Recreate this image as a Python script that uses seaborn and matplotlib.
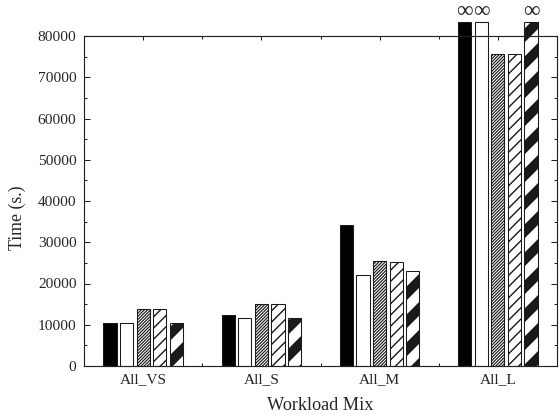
import numpy as np
import pandas as pd
import matplotlib
matplotlib.use("Agg")
import matplotlib.pyplot as plt
import seaborn as sns

# Completion time per workload mix for five configurations (inf = did not finish)
workloads = ["All_VS", "All_S", "All_M", "All_L"]
series = ["cfg1", "cfg2", "cfg3", "cfg4", "cfg5"]
cfg1 = [10500, 12300, 34100, np.inf]
cfg2 = [10400, 11600, 22000, np.inf]
cfg3 = [13700, 15000, 25500, 75600]
cfg4 = [13700, 15000, 25100, 75600]
cfg5 = [10350, 11700, 23000, np.inf]
y_ticks = [0, 10000, 20000, 30000, 40000, 50000, 60000, 70000, 80000]

INF_BAR = 83500      # height used to draw unfinished runs (bar runs past the frame)
INF_MARK_Y = 85900   # height of the infinity sign above such bars

values = [cfg1, cfg2, cfg3, cfg4, cfg5]
rows = []
for name, vals in zip(series, values):
    for w, v in zip(workloads, vals):
        rows.append({"workload": w, "config": name, "time": v,
                     "shown": INF_BAR if np.isinf(v) else v})
df = pd.DataFrame(rows)

sns.set_style("ticks")
plt.rcParams["font.family"] = ["Liberation Serif", "DejaVu Serif"]
plt.rcParams["hatch.color"] = "black"

DPI = 168
fig = plt.figure(figsize=(560 / DPI, 417 / DPI), dpi=DPI)
ax = fig.add_axes([84 / 560, 1 - 366 / 417, (557 - 84) / 560, (366 - 36) / 417])

palette = ["black", "white", "white", "white", "white"]
sns.barplot(data=df, x="workload", y="shown", hue="config", order=workloads,
            hue_order=series, palette=palette, width=0.7, gap=0.2,
            edgecolor="#1a1a1a", linewidth=0.45, legend=False, ax=ax, errorbar=None)

hatches = [None, None, "/" * 18, "/" * 5, "//"]
hatch_lw = [0.5, 0.5, 0.5, 0.6, 4.2]
for cont, h, hl, vals in zip(ax.containers, hatches, hatch_lw, values):
    for bar, v in zip(cont, vals):
        if h:
            bar.set_hatch(h)
            if hasattr(bar, "set_hatch_linewidth"):
                bar.set_hatch_linewidth(hl)
        bar.set_clip_on(False)
        if np.isinf(v):
            ax.text(bar.get_x() + bar.get_width() / 2, INF_MARK_Y, "\u221e",
                    ha="center", va="center", fontsize=10, clip_on=False)

ax.set_xlim(-0.5, 3.5)
ax.set_ylim(0, 80000)
ax.set_yticks(y_ticks)
ax.set_yticklabels([str(t) for t in y_ticks])
ax.set_yticks(np.arange(5000, 80000, 10000), minor=True)
ax.set_xticks(range(len(workloads)))
ax.set_xticklabels(workloads)
ax.set_xticks([0.5, 1.5, 2.5], minor=True)

for s in ax.spines.values():
    s.set_visible(True)
    s.set_linewidth(0.5)
    s.set_color("#222222")
    s.set_zorder(3)

ax.tick_params(which="both", direction="in", top=True, right=True,
               width=0.45, color="#222222", labelsize=6.6, pad=3.2)
ax.tick_params(axis="y", which="major", length=2.6)
ax.tick_params(axis="y", which="minor", length=1.4)
ax.tick_params(axis="x", which="major", length=1.6)
ax.tick_params(axis="x", which="minor", length=1.4)

ax.set_xlabel("Workload Mix", fontsize=7.8, labelpad=4.5)
ax.set_ylabel("Time (s.)", fontsize=7.6)
ax.yaxis.set_label_coords(-0.122, 0.45)

fig.savefig("out.png", dpi=DPI)
